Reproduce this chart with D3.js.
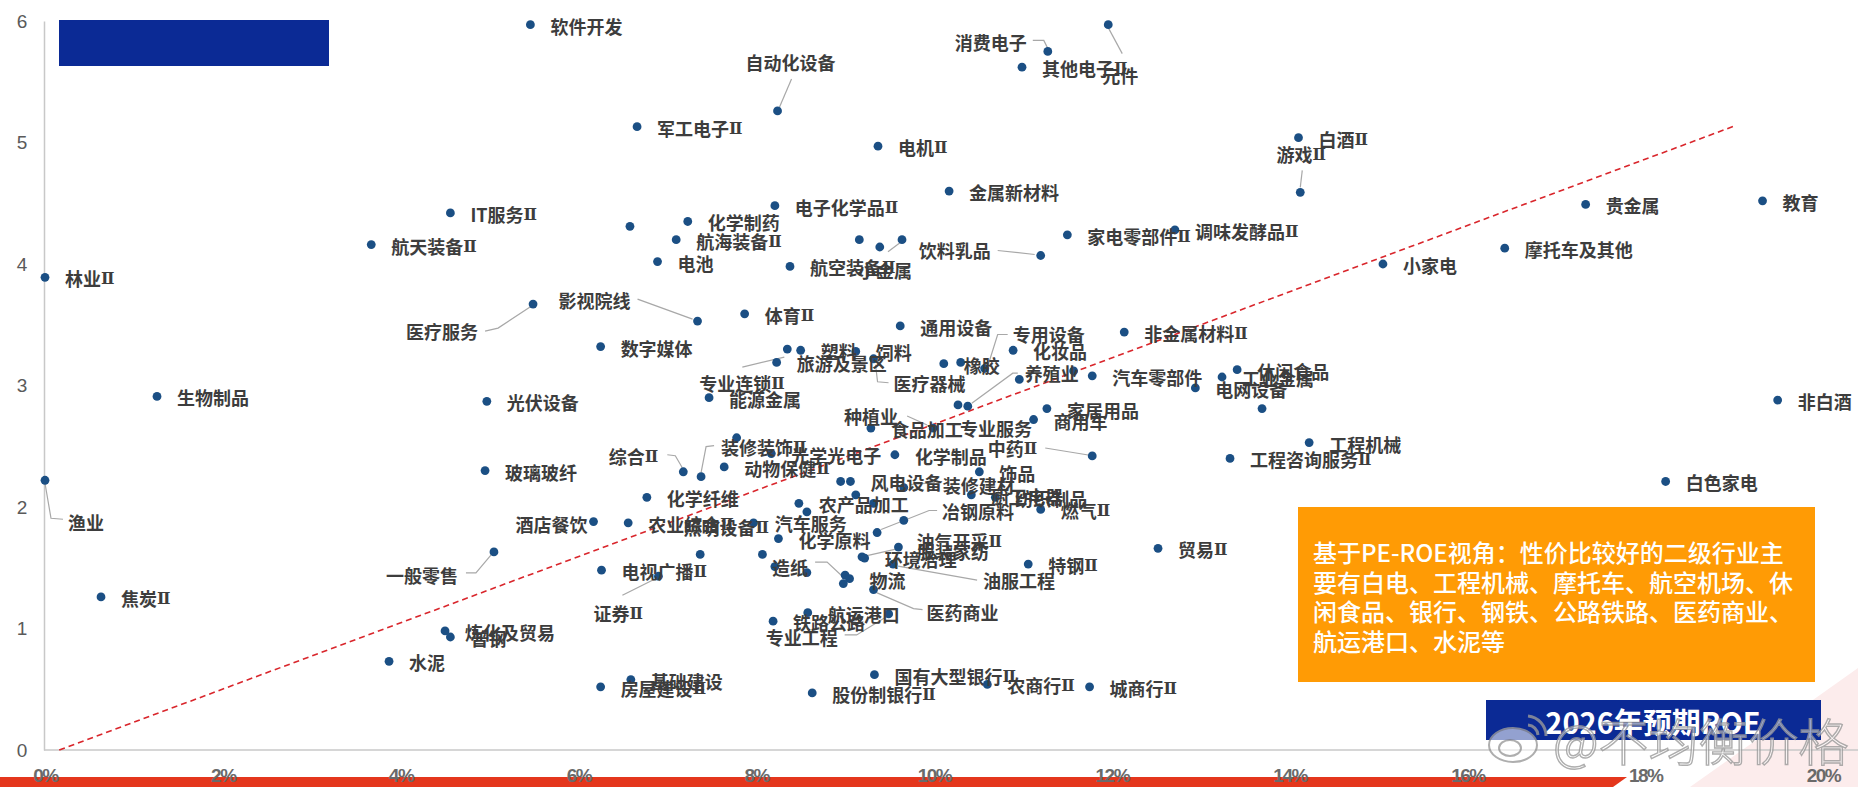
<!DOCTYPE html>
<html><head><meta charset="utf-8">
<script src="https://cdn.jsdelivr.net/npm/d3@7"></script>
<style>html,body{margin:0;padding:0;background:#fff;overflow:hidden}</style>
</head><body>
<svg id="chart" width="1858" height="787"></svg>
<script>
// ---------------- data ----------------
const industries = ["软件开发","元件","消费电子","其他电子Ⅱ","自动化设备","军工电子Ⅱ","电机Ⅱ","白酒Ⅱ","游戏Ⅱ","金属新材料",
"电子化学品Ⅱ","IT服务Ⅱ","贵金属","教育","化学制药","","航海装备Ⅱ","航天装备Ⅱ","家电零部件Ⅱ","调味发酵品Ⅱ",
"摩托车及其他","饮料乳品","","","小金属","电池","小家电","航空装备Ⅱ","林业Ⅱ","医疗服务",
"影视院线","体育Ⅱ","通用设备","非金属材料Ⅱ","数字媒体","专业连锁Ⅱ","塑料","旅游及景区","饲料","医疗器械",
"橡胶","","专用设备","化妆品","","","汽车零部件","电网设备","工业金属","休闲食品",
"","生物制品","光伏设备","能源金属","非白酒","专业服务","养殖业","家居用品","商用车","食品加工",
"种植业","","工程机械","光学光电子","化学制品","中药Ⅱ","工程咨询服务Ⅱ","动物保健Ⅱ","综合Ⅱ","装修装饰Ⅱ",
"玻璃玻纤","饰品","渔业","白色家电","","风电设备","装修建材","","厨卫电器","纺织制品",
"化学纤维","农产品加工","","燃气Ⅱ","汽车服务","","酒店餐饮","农业综合Ⅱ","照明设备Ⅱ","冶钢原料",
"化学原料","油气开采Ⅱ","贸易Ⅱ","一般零售","","","服装家纺","环境治理","油服工程","特钢Ⅱ",
"","电视广播Ⅱ","","造纸","证券Ⅱ","物流","","医药商业","焦炭Ⅱ","航运港口",
"专业工程","铁路公路","炼化及贸易","普钢","水泥","国有大型银行Ⅱ","基础建设","农商行Ⅱ","房屋建设Ⅱ","城商行Ⅱ",
"股份制银行Ⅱ"];
// 2026 expected ROE (%)
const roe = [5.46,11.96,11.28,10.99,8.24,6.66,9.37,14.10,14.12,10.17,
8.21,4.56,17.33,19.32,7.23,6.58,7.10,3.67,11.50,12.71,
16.42,11.20,9.16,9.39,9.64,6.89,15.05,8.38,0.00,5.49,
7.34,7.87,9.62,12.14,6.25,8.35,8.50,8.23,9.12,9.32,
10.11,10.30,10.57,10.89,10.96,11.57,11.78,12.94,13.24,13.41,
13.69,1.26,4.97,7.47,19.49,10.27,10.38,11.27,11.12,9.29,
9.99,7.78,14.22,8.17,9.56,11.78,13.33,7.64,7.18,7.38,
4.95,10.51,0.00,18.23,8.95,9.06,9.66,9.12,10.42,10.69,
6.77,8.48,9.32,11.20,8.57,9.66,6.17,6.56,7.97,9.36,
8.25,9.60,12.52,5.05,8.07,7.37,9.19,9.22,9.54,11.06,
8.21,6.26,8.57,9.00,6.90,9.05,8.98,9.32,0.63,8.58,
9.49,8.19,4.50,4.56,3.87,9.33,6.59,10.60,6.25,11.75,
8.63];
// valuation (y axis)
const pb = [5.97,5.97,5.75,5.62,5.26,5.13,4.97,5.04,4.59,4.60,
4.48,4.42,4.49,4.52,4.35,4.31,4.20,4.16,4.24,4.28,
4.13,4.07,4.20,4.14,4.20,4.02,4.00,3.98,3.89,3.67,
3.53,3.59,3.49,3.44,3.32,3.30,3.29,3.19,3.28,3.22,
3.18,3.19,3.14,3.29,3.05,3.12,3.08,2.98,3.07,3.13,
2.81,2.91,2.87,2.90,2.88,2.84,2.83,2.81,2.72,2.65,
2.65,2.57,2.53,2.44,2.43,2.42,2.40,2.33,2.29,2.25,
2.30,2.29,2.22,2.21,2.21,2.21,2.16,2.10,2.10,2.08,
2.08,2.03,2.03,1.98,1.96,1.89,1.88,1.87,1.87,1.79,
1.74,1.67,1.66,1.63,1.61,1.61,1.59,1.58,1.53,1.53,
1.51,1.48,1.46,1.44,1.43,1.41,1.37,1.32,1.26,1.13,
1.12,1.06,0.98,0.93,0.73,0.62,0.58,0.54,0.52,0.52,
0.47];
const xTicks = [0,2,4,6,8,10,12,14,16,18,20];
const yTicks = [0,1,2,3,4,5,6];
const refRoe = [0.16, 19.02];
const refPb = [0, 5.14];
const xAxisTitle = "2026年预期ROE";
const noteLines = ["基于PE-ROE视角：性价比较好的二级行业主","要有白电、工程机械、摩托车、航空机场、休","闲食品、银行、钢铁、公路铁路、医药商业、","航运港口、水泥等"];
const watermark = "@不均衡价格";

// ---------------- label layout (pixel offsets from the point) ----------------
const labelLayout = {
 "元件":{dx:12,dy:50,anchor:"middle",leader:[[0,3],[14,29]]},
 "消费电子":{dx:-21,dy:-9,anchor:"end",leader:[[-15,-11],[-4,-11],[0,-3]]},
 "自动化设备":{dx:13,dy:-49,anchor:"middle",leader:[[14,-32],[2,-4]]},
 "游戏Ⅱ":{dx:1,dy:-38,anchor:"middle",leader:[[2,-22],[0,-5]]},
 "饮料乳品":{dx:-50,dy:-5,anchor:"end",leader:[[-43,-5],[-6,-1]]},
 "小金属":{dx:-44,dy:30,anchor:"start",leader:[[-2,3],[-14,12]]},
 "医疗服务":{dx:-55,dy:27,anchor:"end",leader:[[-48,27],[-35,24],[-3,3]]},
 "影视院线":{dx:-139,dy:-21,anchor:"start",leader:[[-60,-22],[-5,-2]]},
 "专业连锁Ⅱ":{dx:-88,dy:34,anchor:"start",leader:[[-45,18],[-3,8]]},
 "医疗器械":{dx:20,dy:24,anchor:"start",leader:[[2,6],[4,23],[15,24]]},
 "专用设备":{dx:28,dy:-34,anchor:"start",leader:[[23,-34],[13,-34],[3,-2]]},
 "养殖业":{dx:57,dy:-33,anchor:"start",leader:[[50,-33],[45,-33],[4,-3]]},
 "专业服务":{dx:2,dy:23,anchor:"start"},
 "种植业":{dx:-35,dy:-12,anchor:"end",leader:[[-26,-12],[-6,-3]]},
 "中药Ⅱ":{dx:-55,dy:-8,anchor:"end",leader:[[-47,-8],[-4,-1]]},
 "装修装饰Ⅱ":{dx:20,dy:-30,anchor:"start",leader:[[13,-31],[5,-30],[0,-4]]},
 "综合Ⅱ":{dx:-25,dy:-16,anchor:"end",leader:[[-16,-17],[-8,-16],[-1,-4]]},
 "照明设备Ⅱ":{dx:-70,dy:4,anchor:"start"},
 "汽车服务":{dx:-32,dy:11,anchor:"start"},
 "装修建材":{dx:39,dy:-3,anchor:"start",leader:[[31,-5],[6,-3]]},
 "冶钢原料":{dx:65,dy:-22,anchor:"start",leader:[[60,-22],[52,-22],[4,-3]]},
 "造纸":{dx:-37,dy:-8,anchor:"end",leader:[[-30,-13],[-18,-13],[-2,2]]},
 "医药商业":{dx:53,dy:22,anchor:"start",leader:[[3,3],[40,19],[49,20]]},
 "油服工程":{dx:90,dy:16,anchor:"start",leader:[[5,2],[84,16]]},
 "油气开采Ⅱ":{dx:18,dy:-6,anchor:"start"},
 "服装家纺":{dx:55,dy:-6,anchor:"start",leader:[[4,-1],[35,-8]]},
 "证券Ⅱ":{dx:-65,dy:37,anchor:"start",leader:[[-36,19],[-2,2]]},
 "一般零售":{dx:-36,dy:23,anchor:"end",leader:[[-28,21],[-18,21],[-2,2]]},
 "渔业":{dx:23,dy:42,anchor:"start",leader:[[0,3],[6,38],[18,39]]},
 "专业工程":{dx:-123,dy:23,anchor:"start",leader:[[-44,21],[-32,21],[-1,2]]},
 "酒店餐饮":{dx:-6,dy:2,anchor:"end"}
};

// ---------------- drawing ----------------
const svg = d3.select("#chart");
const x = d3.scaleLinear().domain([0,20]).range([45,1823]);
const y = d3.scaleLinear().domain([0,6]).range([750,21]);
const data = industries.map((n,i)=>({name:n, roe:roe[i], pb:pb[i]}));
const CJK = "'Noto Sans CJK SC','Noto Sans',sans-serif";

// decorative background at bottom
svg.append("polygon").attr("points","1690,787 1858,668 1858,787").attr("fill","#fcecec");
svg.append("polygon").attr("points","0,777 1627,777 1613,787 0,787").attr("fill","#e4361c");

// axes
const yAxis = svg.append("g").attr("transform","translate(44,0)")
  .call(d3.axisLeft(y).tickValues(yTicks).tickSize(0).tickSizeOuter(0).tickFormat(d3.format("d")));
yAxis.select(".domain").attr("stroke","#c8c8c8").attr("stroke-width",1.5);
yAxis.selectAll("text").attr("x",-22).attr("text-anchor","middle")
  .style("font-family","'Liberation Sans',Arial,sans-serif").style("font-size","19px").attr("fill","#5a5a5a");

svg.append("line").attr("x1",44).attr("x2",1858).attr("y1",y(0)).attr("y2",y(0))
  .attr("stroke","#c8c8c8").attr("stroke-width",1.5);
const xAxis = svg.append("g").attr("transform",`translate(0,${y(0)})`)
  .call(d3.axisBottom(x).tickValues(xTicks).tickSize(0).tickSizeOuter(0).tickFormat(d=>d+"%"));
xAxis.select(".domain").remove();
xAxis.selectAll("text").attr("y",19)
  .style("font-family","'Liberation Sans Narrow','Liberation Sans',Arial,sans-serif")
  .style("font-size","19px").style("font-weight","bold").style("letter-spacing","-1.5px").attr("fill","#6a6a6a");

// reference dashed line
svg.append("line")
  .attr("x1",x(refRoe[0])).attr("y1",y(refPb[0]))
  .attr("x2",x(refRoe[1])).attr("y2",y(refPb[1]))
  .attr("stroke","#d9262c").attr("stroke-width",1.6).attr("stroke-dasharray","6,4");

// leader lines
const line = d3.line();
data.forEach(d=>{
  const L = labelLayout[d.name];
  if(d.name && L && L.leader){
    const px=x(d.roe), py=y(d.pb);
    svg.append("path").attr("d", line(L.leader.map(p=>[px+p[0],py+p[1]])))
      .attr("fill","none").attr("stroke","#a8a8a8").attr("stroke-width",1.2);
  }
});

// points
svg.append("g").selectAll("circle").data(data).join("circle")
  .attr("cx",d=>x(d.roe)).attr("cy",d=>y(d.pb)).attr("r",4.4).attr("fill","#1b4f84");

// labels (the Roman numeral is set in a font that draws it with bars)
const labels = svg.append("g").selectAll("text").data(data.filter(d=>d.name)).join("text")
  .attr("x",d=>x(d.roe)+((labelLayout[d.name]||{}).dx ?? 20))
  .attr("y",d=>y(d.pb)+((labelLayout[d.name]||{}).dy ?? 1))
  .attr("text-anchor",d=>(labelLayout[d.name]||{}).anchor || "start")
  .attr("dominant-baseline","central")
  .style("font-family",CJK).style("font-size","18px").style("font-weight","bold")
  .attr("fill","#3d3d3d");
labels.each(function(d){
  const t = d3.select(this);
  const m = d.name.match(/^(.*?)(Ⅱ?)$/);
  t.append("tspan").text(m[1]);
  if(m[2]) t.append("tspan").style("font-family","'DejaVu Serif','DejaVu Sans',serif")
    .style("font-size","16px").text(m[2]);
});

// top-left title box
svg.append("rect").attr("x",59).attr("y",20).attr("width",270).attr("height",46).attr("fill","#0b2a95");

// orange note box
const nb = svg.append("g");
nb.append("rect").attr("x",1298).attr("y",507).attr("width",517).attr("height",175).attr("fill","#ff9b05");
nb.selectAll("text").data(noteLines).join("text")
  .attr("x",1313).attr("y",(d,i)=>562+i*29.5)
  .style("font-family",CJK).style("font-size","24px").style("font-weight","500")
  .attr("fill","#ffffff").text(d=>d);

// x axis title box
svg.append("rect").attr("x",1486).attr("y",700).attr("width",335).attr("height",40).attr("fill","#0b2a95");
svg.append("text").attr("x",1653).attr("y",721).attr("text-anchor","middle").attr("dominant-baseline","central")
  .style("font-family",CJK).style("font-size","29px").style("font-weight","bold").attr("fill","#ffffff").text(xAxisTitle);

// watermark
const wm = svg.append("g").attr("opacity",0.8);
wm.append("ellipse").attr("cx",1513).attr("cy",745).attr("rx",24).attr("ry",17)
  .attr("fill","rgba(255,255,255,0.7)").attr("stroke","#9a9a9a").attr("stroke-width",2);
wm.append("ellipse").attr("cx",1510).attr("cy",748).attr("rx",11).attr("ry",8)
  .attr("fill","none").attr("stroke","#9a9a9a").attr("stroke-width",2);
wm.append("path").attr("d","M1528,716 A20,20 0 0 1 1546,736").attr("fill","none").attr("stroke","#9a9a9a").attr("stroke-width",3);
wm.append("path").attr("d","M1528,725 A11,11 0 0 1 1538,735").attr("fill","none").attr("stroke","#9a9a9a").attr("stroke-width",3);
wm.append("text").attr("x",1553).attr("y",761)
  .style("font-family",CJK).style("font-size","50px").style("font-weight","300")
  .attr("fill","rgba(255,255,255,0.75)").attr("stroke","#9a9a9a").attr("stroke-width",1.4).text(watermark);
</script>
</body></html>
